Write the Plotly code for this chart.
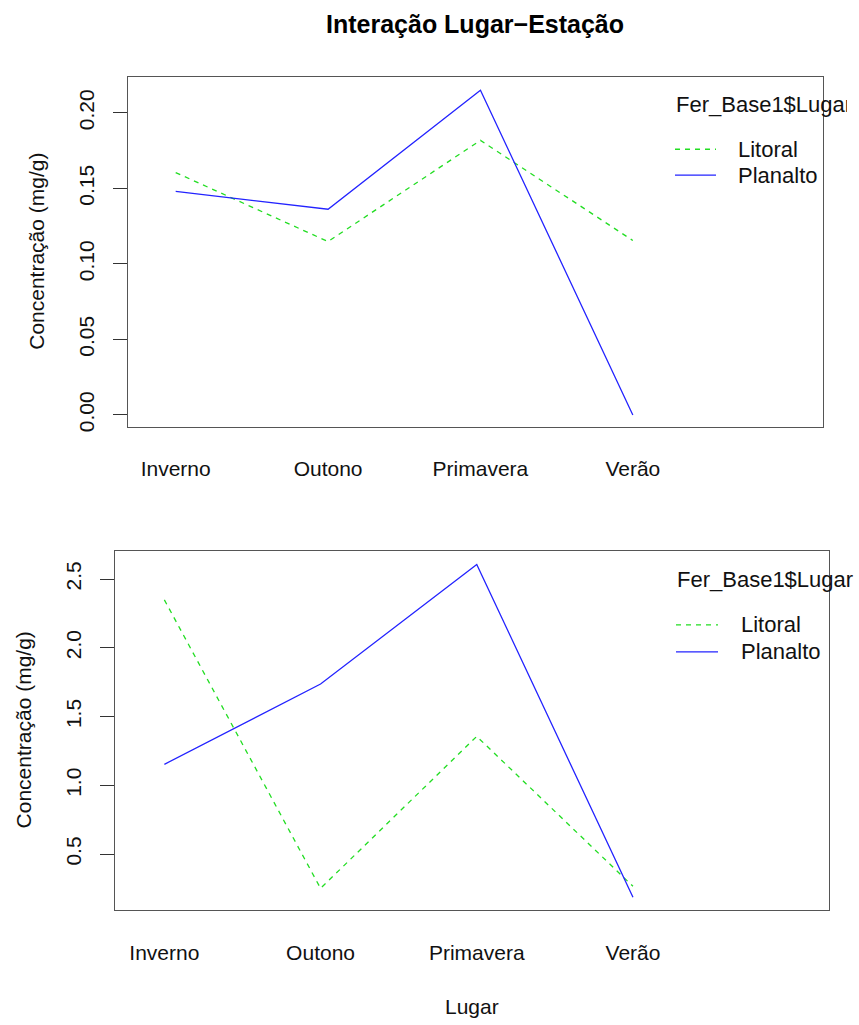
import plotly.graph_objects as go

# Interaction means of iron concentration by season and site
estacoes = ["Inverno", "Outono", "Primavera", "Verão"]
lugares = ["Litoral", "Planalto"]

conc_topo_litoral = [0.1605, 0.1148, 0.1818, 0.1155]
conc_topo_planalto = [0.1480, 0.1362, 0.2150, 0.0000]

conc_base_litoral = [2.349, 0.251, 1.356, 0.266]
conc_base_planalto = [1.153, 1.737, 2.606, 0.186]

y_ticks_topo = [0.00, 0.05, 0.10, 0.15, 0.20]
y_ticks_base = [0.5, 1.0, 1.5, 2.0, 2.5]

titulo = "Interação Lugar\u2212Estação"
titulo_eixo_y = "Concentração (mg/g)"
titulo_eixo_x = "Lugar"
titulo_legenda = "Fer_Base1$Lugar"

W, H = 859, 1025
FONT = "Liberation Sans, Arial, sans-serif"
VERDE = "#22dd22"
AZUL = "#2323ff"
estilos = {"Litoral": dict(color=VERDE, width=1.3, dash="5px,5px"),
           "Planalto": dict(color=AZUL, width=1.3)}


def px(x):
    return x / W


def py(y):
    return 1 - y / H


fig = go.Figure()

painel = [
    ("x", "y", conc_topo_litoral, conc_topo_planalto),
    ("x2", "y2", conc_base_litoral, conc_base_planalto),
]
for xa, ya, lit, plan in painel:
    for nome, vals in zip(lugares, [lit, plan]):
        fig.add_trace(go.Scatter(x=estacoes, y=vals, mode="lines", name=nome,
                                 line=estilos[nome], xaxis=xa, yaxis=ya,
                                 showlegend=False, hoverinfo="skip"))

eixo_comum = dict(showgrid=False, zeroline=False, showline=True, mirror=True,
                  linecolor="#555555", linewidth=1)

fig.update_layout(
    width=W, height=H,
    margin=dict(l=0, r=0, t=0, b=0),
    plot_bgcolor="white", paper_bgcolor="white",
    font=dict(family=FONT, size=21, color="#111111"),
    xaxis=dict(domain=[px(128), px(823)], anchor="y", type="category",
               range=[-0.313, 4.248], ticks="", ticklabelstandoff=23,
               tickfont=dict(size=21), **eixo_comum),
    yaxis=dict(domain=[py(429.3), py(77.3)], anchor="x",
               range=[-0.0081, 0.2238], tickvals=y_ticks_topo, tickformat=".2f",
               ticks="outside", ticklen=14, tickcolor="#333333", tickangle=-90,
               ticklabelstandoff=11, tickfont=dict(size=21), **eixo_comum),
    xaxis2=dict(domain=[px(115), px(829)], anchor="y2", type="category",
                range=[-0.316, 4.255], ticks="", ticklabelstandoff=24,
                tickfont=dict(size=21), **eixo_comum),
    yaxis2=dict(domain=[py(914.7), py(554)], anchor="x2",
                range=[0.0919, 2.702], tickvals=y_ticks_base, tickformat=".1f",
                ticks="outside", ticklen=14, tickcolor="#333333", tickangle=-90,
                ticklabelstandoff=11, tickfont=dict(size=21), **eixo_comum),
)

anotacoes = [
    dict(text="<b>" + titulo + "</b>", x=px(475.5), y=py(24), xanchor="center",
         yanchor="middle", font=dict(size=25, color="#000000")),
    dict(text=titulo_eixo_y, x=px(37), y=py(253), textangle=-90,
         xanchor="center", yanchor="middle"),
    dict(text=titulo_eixo_y, x=px(23), y=py(734), textangle=-90,
         xanchor="center", yanchor="middle"),
    dict(text=titulo_eixo_x, x=px(472), y=py(1011), xanchor="center",
         yanchor="middle"),
    # legend titles (the upper one is cut at the page edge)
    dict(text=titulo_legenda, x=px(674), y=py(105), xanchor="left",
         yanchor="middle", width=171, align="left", font=dict(size=22)),
    dict(text=titulo_legenda, x=px(675), y=py(582), xanchor="left",
         yanchor="middle", align="left", font=dict(size=22)),
]

formas = []
legendas = [
    (675, 716, 736, {"Litoral": 150, "Planalto": 176}),
    (676, 718, 739, {"Litoral": 628, "Planalto": 655}),
]
for x0, x1, xt, linhas in legendas:
    for nome, yy in linhas.items():
        formas.append(dict(type="line", xref="paper", yref="paper",
                           x0=px(x0), x1=px(x1), y0=py(yy), y1=py(yy),
                           line=estilos[nome]))
        anotacoes.append(dict(text=nome, x=px(xt), y=py(yy), xanchor="left",
                              yanchor="middle", align="left",
                              font=dict(size=22)))

for a in anotacoes:
    a.setdefault("xref", "paper")
    a.setdefault("yref", "paper")
    a.setdefault("showarrow", False)

fig.update_layout(annotations=anotacoes, shapes=formas)

fig.write_html("out.html")
